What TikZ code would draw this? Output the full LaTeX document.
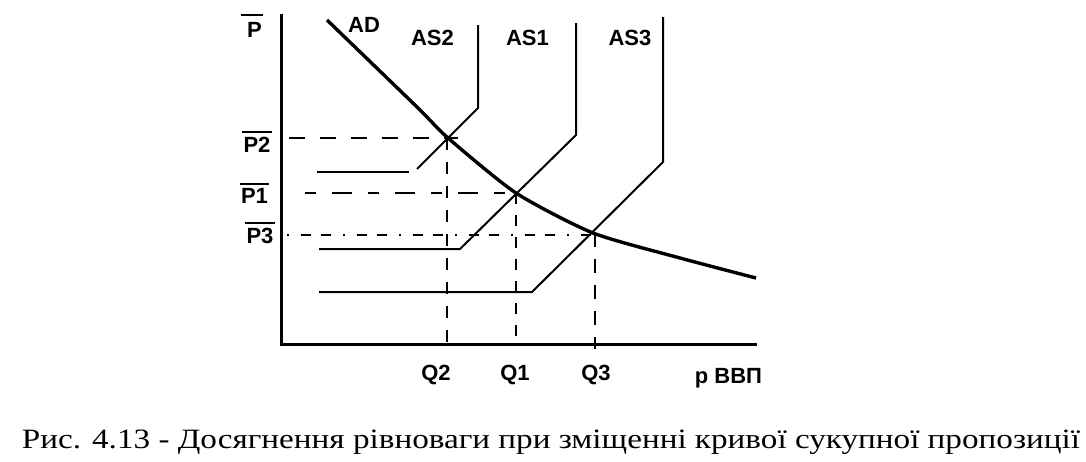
\documentclass[tikz,border=0pt]{standalone}
\usepackage{fontspec}
\setmainfont{Liberation Serif}
\newfontfamily\lblfont{Liberation Sans Bold}
\begin{document}
\begin{tikzpicture}[x=1pt,y=-1pt,
  lbl/.style={font=\lblfont\fontsize{22}{24}\selectfont, inner sep=0pt, anchor=base},
  axisline/.style={line width=3pt},
  adline/.style={line width=3.4pt},
  asline/.style={line width=2pt},
  dline/.style={line width=2.6pt},
  ovl/.style={line width=2pt}]
\useasboundingbox (0,0) rectangle (1086,461);
% key points
\coordinate (O) at (281,344);
\coordinate (Ytop) at (281,14);
\coordinate (Xend) at (757,344);
\coordinate (E2) at (448,138);
\coordinate (E1) at (516,193);
\coordinate (E3) at (593,233);
% axes
\draw[axisline] (Ytop) -- (O) -- (Xend);
% AD
\draw[adline] plot[smooth, tension=0.4] coordinates {(327,20) (418,108) (E2) (E1) (E3) (680,258) (756,278)};
% AS2
\coordinate (a2h1) at (317,172); \coordinate (a2h2) at (409,172);
\coordinate (a2d) at (417,169); \coordinate (a2k) at (478,108); \coordinate (a2t) at (478,25);
\draw[asline] (a2h1) -- (a2h2);
\draw[asline] (a2d) -- (a2k) -- (a2t);
% AS1
\coordinate (a1h1) at (319,249); \coordinate (a1h2) at (460,249);
\coordinate (a1k) at (576,135); \coordinate (a1t) at (576,23);
\draw[asline] (a1h1) -- (a1h2) -- (a1k) -- (a1t);
% AS3
\coordinate (a3h1) at (319,292); \coordinate (a3h2) at (532,292);
\coordinate (a3k) at (663,162); \coordinate (a3t) at (663,17);
\draw[asline] (a3h1) -- (a3h2) -- (a3k) -- (a3t);
% dashed guides
\coordinate (p2s) at (289,138); \coordinate (p2e) at (458,138);
\coordinate (q2s) at (447,138); \coordinate (q2e) at (447,349);
\coordinate (p1s) at (305,193); \coordinate (p1e) at (516,193);
\coordinate (q1s) at (516,193); \coordinate (q1e) at (516,344);
\coordinate (p3s) at (287,235); \coordinate (p3e) at (593,235);
\coordinate (q3s) at (595,233); \coordinate (q3e) at (595,349);
\draw[dline, dash pattern=on 16pt off 15pt] (p2s) -- (p2e);
\draw[dline, dash pattern=on 12pt off 12pt] (q2s) -- (q2e);
\draw[dline, dash pattern=on 11pt off 16pt on 20pt off 16pt] (p1s) -- (p1e);
\draw[dline, dash pattern=on 11pt off 11pt] (q1s) -- (q1e);
\draw[dline, dash pattern=on 2pt off 12pt on 10pt off 10pt on 10pt off 12pt] (p3s) -- (p3e);
\draw[dline, dash pattern=on 14pt off 12pt] (q3s) -- (q3e);
% labels
\node[lbl] (lP) at (254.5,37) {P};
\node[lbl] (lAD) at (364,32) {AD};
\node[lbl] (lAS2) at (432.5,45) {AS2};
\node[lbl] (lAS1) at (527.5,45) {AS1};
\node[lbl] (lAS3) at (630,45) {AS3};
\node[lbl] (lP2) at (257,152) {P2};
\node[lbl] (lP1) at (254.5,203) {P1};
\node[lbl] (lP3) at (260,243) {P3};
\node[lbl] (lQ2) at (436,380) {Q2};
\node[lbl] (lQ1) at (515,380) {Q1};
\node[lbl] (lQ3) at (596,380) {Q3};
\node[lbl] (lGDP) at (728.5,383) {р ВВП};
% overlines
\draw[ovl] ([xshift=-6pt,yshift=7pt]lP.north west) -- ([xshift=1pt,yshift=7pt]lP.north east);
\draw[ovl] ([xshift=-1pt,yshift=4pt]lP2.north west) -- ([xshift=1pt,yshift=4pt]lP2.north east);
\draw[ovl] ([xshift=-1pt,yshift=4pt]lP1.north west) -- ([xshift=1pt,yshift=4pt]lP1.north east);
\draw[ovl] ([xshift=-1pt,yshift=4pt]lP3.north west) -- ([xshift=1pt,yshift=4pt]lP3.north east);
% caption
\node[inner sep=0pt, anchor=base, font=\fontsize{28}{32}\selectfont] (cap) at (551,448) {\scalebox{1.185}[1]{Рис. 4.13 - Досягнення рівноваги при зміщенні кривої сукупної пропозиції}};
\end{tikzpicture}
\end{document}
